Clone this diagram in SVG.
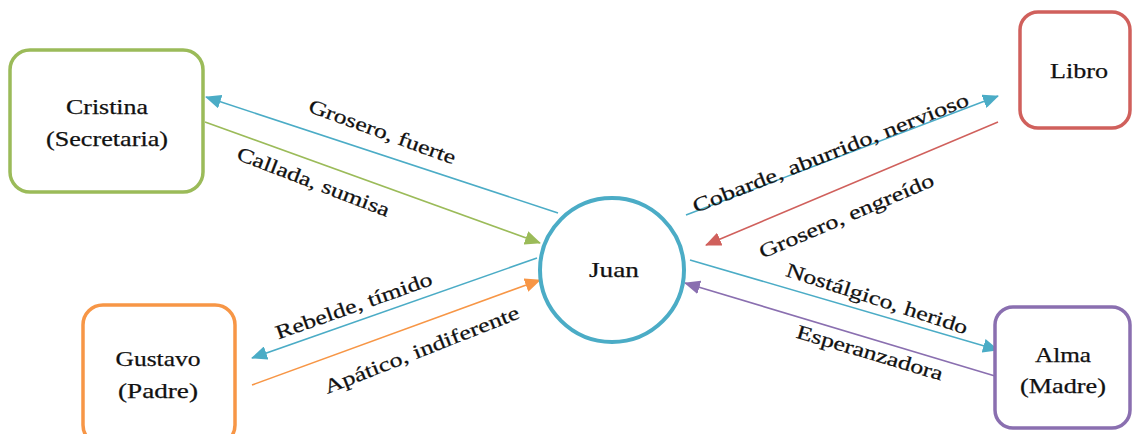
<svg xmlns="http://www.w3.org/2000/svg" width="1135" height="434" viewBox="0 0 1135 434">
<style>
.box{fill:#fff;stroke-width:3.5}
.t{font-family:'Liberation Serif',serif;font-size:21px;fill:#111;text-anchor:middle;stroke:#111;stroke-width:0.25}
.l{font-family:'Liberation Serif',serif;font-size:20px;fill:#111;text-anchor:middle;stroke:#111;stroke-width:0.25}
.c{fill:none;stroke-width:1.6}
</style>
<defs>
<marker id="aC" viewBox="0 0 16 14" refX="15" refY="7" markerWidth="16" markerHeight="14" markerUnits="userSpaceOnUse" orient="auto"><path d="M0,0 L16,7 L0,14 z" fill="#4BACC6"/></marker>
<marker id="aG" viewBox="0 0 16 14" refX="15" refY="7" markerWidth="16" markerHeight="14" markerUnits="userSpaceOnUse" orient="auto"><path d="M0,0 L16,7 L0,14 z" fill="#9BBB59"/></marker>
<marker id="aO" viewBox="0 0 16 14" refX="15" refY="7" markerWidth="16" markerHeight="14" markerUnits="userSpaceOnUse" orient="auto"><path d="M0,0 L16,7 L0,14 z" fill="#F79646"/></marker>
<marker id="aR" viewBox="0 0 16 14" refX="15" refY="7" markerWidth="16" markerHeight="14" markerUnits="userSpaceOnUse" orient="auto"><path d="M0,0 L16,7 L0,14 z" fill="#D0605C"/></marker>
<marker id="aP" viewBox="0 0 16 14" refX="15" refY="7" markerWidth="16" markerHeight="14" markerUnits="userSpaceOnUse" orient="auto"><path d="M0,0 L16,7 L0,14 z" fill="#8A6FB0"/></marker>
</defs>
<rect width="1135" height="434" fill="#fff"/>
<g id="connectors">
<line class="c" stroke="#4BACC6" x1="558" y1="213" x2="206" y2="97" marker-end="url(#aC)"/>
<line class="c" stroke="#9BBB59" x1="205" y1="122" x2="540" y2="243" marker-end="url(#aG)"/>
<line class="c" stroke="#4BACC6" x1="537" y1="258" x2="252" y2="358" marker-end="url(#aC)"/>
<line class="c" stroke="#F79646" x1="252" y1="385" x2="540" y2="280" marker-end="url(#aO)"/>
<line class="c" stroke="#4BACC6" x1="686" y1="215" x2="998" y2="96" marker-end="url(#aC)"/>
<line class="c" stroke="#D0605C" x1="998" y1="122" x2="706" y2="245" marker-end="url(#aR)"/>
<line class="c" stroke="#4BACC6" x1="690" y1="260" x2="998" y2="350" marker-end="url(#aC)"/>
<line class="c" stroke="#8A6FB0" x1="995" y1="376" x2="685" y2="283" marker-end="url(#aP)"/>
<text class="l" transform="translate(380,138) rotate(20)" textLength="155" lengthAdjust="spacingAndGlyphs">Grosero,  fuerte</text>
<text class="l" transform="translate(311,188) rotate(21)" textLength="162" lengthAdjust="spacingAndGlyphs">Callada, sumisa</text>
<text class="l" transform="translate(356,312) rotate(-19.5)" textLength="165" lengthAdjust="spacingAndGlyphs">Rebelde, tímido</text>
<text class="l" transform="translate(424,356) rotate(-21.5)" textLength="208" lengthAdjust="spacingAndGlyphs">Apático, indiferente</text>
<text class="l" transform="translate(833,159) rotate(-21.5)" textLength="295" lengthAdjust="spacingAndGlyphs">Cobarde, aburrido, nervioso</text>
<text class="l" transform="translate(849,222) rotate(-23)" textLength="188" lengthAdjust="spacingAndGlyphs">Grosero, engreído</text>
<text class="l" transform="translate(875,305) rotate(18)" textLength="190" lengthAdjust="spacingAndGlyphs">Nostálgico, herido</text>
<text class="l" transform="translate(868,359) rotate(16.5)" textLength="152" lengthAdjust="spacingAndGlyphs">Esperanzadora</text>
</g>
<g id="juan">
<circle cx="612" cy="270" r="72" fill="#fff" stroke="#4BACC6" stroke-width="4"/>
<text class="t" x="614" y="277" textLength="50" lengthAdjust="spacingAndGlyphs">Juan</text>
</g>
<g id="cristina">
<rect class="box" stroke="#9BBB59" x="10" y="50" width="193" height="142" rx="20"/>
<text class="t" x="107" y="114" textLength="82" lengthAdjust="spacingAndGlyphs">Cristina</text>
<text class="t" x="107" y="146" textLength="122" lengthAdjust="spacingAndGlyphs">(Secretaria)</text>
</g>
<g id="libro">
<rect class="box" stroke="#D0605C" x="1020" y="12" width="110" height="116" rx="18"/>
<text class="t" x="1079" y="78" textLength="58" lengthAdjust="spacingAndGlyphs">Libro</text>
</g>
<g id="gustavo">
<rect class="box" stroke="#F79646" x="83" y="305" width="152" height="140" rx="20"/>
<text class="t" x="158" y="366" textLength="85" lengthAdjust="spacingAndGlyphs">Gustavo</text>
<text class="t" x="158" y="398" textLength="80" lengthAdjust="spacingAndGlyphs">(Padre)</text>
</g>
<g id="alma">
<rect class="box" stroke="#8A6FB0" x="995" y="307" width="135" height="121" rx="18"/>
<text class="t" x="1063" y="362" textLength="56" lengthAdjust="spacingAndGlyphs">Alma</text>
<text class="t" x="1063" y="393" textLength="86" lengthAdjust="spacingAndGlyphs">(Madre)</text>
</g>
</svg>
